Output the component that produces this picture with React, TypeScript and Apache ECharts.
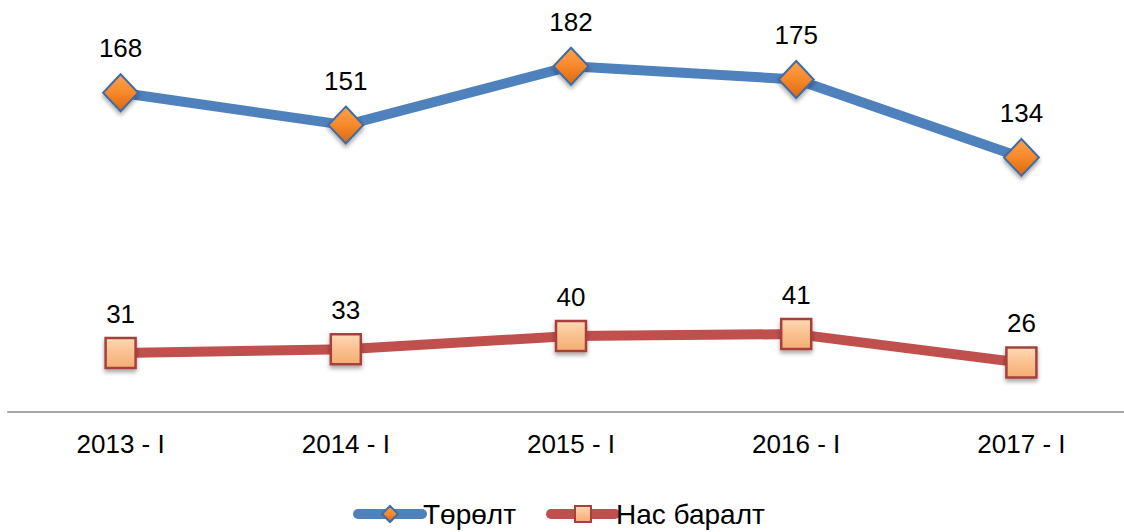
import React, { useEffect, useRef } from "react";
import * as echarts from "echarts";

const categories = ["2013 - I", "2014 - I", "2015 - I", "2016 - I", "2017 - I"];
const births = [168, 151, 182, 175, 134];
const deaths = [31, 33, 40, 41, 26];
const seriesNames = ["Төрөлт", "Нас баралт"];

export default function App() {
  const ref = useRef<HTMLDivElement>(null);
  useEffect(() => {
    const chart = echarts.init(ref.current!, null, { renderer: "svg" });
    const font = "'Liberation Sans', Arial, sans-serif";
    chart.setOption({
      animation: false,
      textStyle: { fontFamily: font },
      grid: { left: 8, top: 32, width: 1126, height: 380 },
      legend: {
        top: 495,
        left: 348,
        itemWidth: 64,
        itemHeight: 20,
        itemGap: 30,
        lineStyle: { width: 10, cap: "round" },
        textStyle: { fontSize: 28, lineHeight: 28, color: "#000", fontFamily: font, padding: [0, 0, 0, -4] },
        data: seriesNames,
      },
      xAxis: {
        type: "category",
        data: categories,
        boundaryGap: true,
        axisLine: { lineStyle: { color: "#A6A6A6", width: 2 } },
        axisTick: { show: false },
        axisLabel: { fontSize: 26, color: "#000", margin: 19, fontFamily: font },
      },
      yAxis: {
        type: "value",
        min: 0,
        max: 200,
        show: false,
        splitLine: { show: false },
      },
      series: [
        {
          name: seriesNames[0],
          type: "line",
          data: births,
          symbol: "diamond",
          symbolSize: [35, 37],
          lineStyle: { color: "#4F81BD", width: 10 },
          itemStyle: {
            color: new echarts.graphic.LinearGradient(0, 0, 0, 1, [
              { offset: 0, color: "#FFA24A" },
              { offset: 0.5, color: "#F7882B" },
              { offset: 1, color: "#D9680E" },
            ]),
            borderColor: "#3F6CA3",
            borderWidth: 2,
            shadowColor: "rgba(0,0,0,0.35)",
            shadowBlur: 4,
            shadowOffsetY: 3,
          },
          label: {
            show: true,
            position: "top",
            distance: 12,
            fontSize: 26,
            color: "#000",
            fontFamily: font,
          },
          z: 3,
        },
        {
          name: seriesNames[1],
          type: "line",
          data: deaths,
          symbol: "rect",
          symbolSize: 30,
          lineStyle: { color: "#C0504D", width: 10 },
          itemStyle: {
            color: new echarts.graphic.LinearGradient(0, 0, 0, 1, [
              { offset: 0, color: "#FDD9B5" },
              { offset: 0.5, color: "#FAC08F" },
              { offset: 1, color: "#F4AE72" },
            ]),
            borderColor: "#A6403D",
            borderWidth: 2.5,
            shadowColor: "rgba(0,0,0,0.35)",
            shadowBlur: 4,
            shadowOffsetY: 3,
          },
          label: {
            show: true,
            position: "top",
            distance: 10,
            fontSize: 26,
            color: "#000",
            fontFamily: font,
          },
          z: 2,
        },
      ],
    });
    return () => chart.dispose();
  }, []);
  return (
    <div
      style={{ position: "fixed", left: 0, top: 0, width: 1124, height: 532, overflow: "hidden", background: "#fff" }}
    >
      <div ref={ref} style={{ width: 1150, height: 532 }} />
    </div>
  );
}
